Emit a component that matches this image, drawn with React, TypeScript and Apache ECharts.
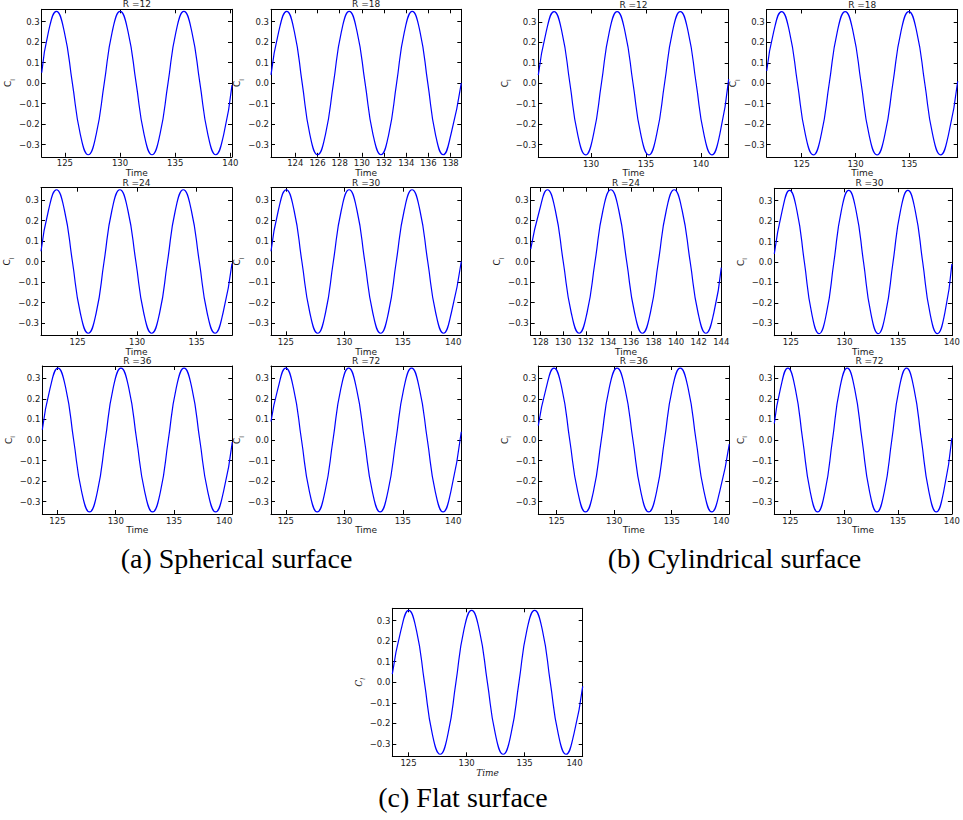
import React, { useEffect, useRef } from 'react';
import * as echarts from 'echarts';

// ---------- tick labels ----------
const yTicks = [-0.3, -0.2, -0.1, 0.0, 0.1, 0.2, 0.3];
const ticks125to140 = [125, 130, 135, 140];
const ticks125to135 = [125, 130, 135];
const ticks130to140 = [130, 135, 140];
const ticks124to138 = [124, 126, 128, 130, 132, 134, 136, 138];
const ticks128to144 = [128, 130, 132, 134, 136, 138, 140, 142, 144];

const panelTitles = ['R =12', 'R =18', 'R =24', 'R =30', 'R =36', 'R =72'];
const captions = ['(a) Spherical surface', '(b) Cylindrical surface', '(c) Flat surface'];

// ---------- x ranges (Time) ----------
const rangeSphR12 = [122.9, 140.15];
const rangeSphR18 = [121.81, 138.96];
const rangeSphR24 = [121.92, 137.97];
const rangeSphR30 = [123.73, 140];
const rangeSphR36 = [123.7, 140];
const rangeSphR72 = [123.73, 140];
const rangeCylR12 = [125.21, 142.52];
const rangeCylR18 = [121.75, 139.49];
const rangeCylR24 = [127.12, 144];
const rangeCylR30 = [123.46, 140];
const rangeCylR36 = [123.41, 140];
const rangeCylR72 = [123.51, 140];
const rangeFlat = [123.6, 140];

// ---------- series values [Time, C_l] ----------
const sphericalR12 = [[122.9,0.05],[123.51,0.25],[124.23,0.35],[124.95,0.25],[125.68,0],[126.4,-0.25],[127.12,-0.35],[127.84,-0.25],[128.57,0],[129.29,0.25],[130.01,0.35],[130.73,0.25],[131.46,0],[132.18,-0.25],[132.9,-0.35],[133.62,-0.25],[134.35,0],[135.07,0.25],[135.79,0.35],[136.51,0.25],[137.24,0],[137.96,-0.25],[138.68,-0.35],[139.4,-0.25],[140.15,-0.01]];
const sphericalR18 = [[121.81,0.04],[122.5,0.25],[123.22,0.35],[123.92,0.25],[124.62,0],[125.31,-0.25],[126.01,-0.35],[126.72,-0.25],[127.44,0],[128.15,0.25],[128.86,0.35],[129.57,0.25],[130.29,0],[131.0,-0.25],[131.72,-0.35],[132.42,-0.25],[133.13,0],[133.83,0.25],[134.54,0.35],[135.24,0.25],[135.94,0],[136.63,-0.25],[137.33,-0.35],[138.03,-0.25],[138.96,0.0]];
const sphericalR24 = [[121.92,0.05],[122.55,0.25],[123.22,0.35],[123.89,0.25],[124.56,0],[125.22,-0.25],[125.89,-0.35],[126.56,-0.25],[127.22,0],[127.88,0.25],[128.55,0.35],[129.22,0.25],[129.89,0],[130.55,-0.25],[131.22,-0.35],[131.89,-0.25],[132.55,0],[133.21,0.25],[133.88,0.35],[134.55,0.25],[135.22,0],[135.88,-0.25],[136.55,-0.35],[137.22,-0.25],[137.97,-0.01]];
const sphericalR30 = [[123.73,0.05],[124.36,0.25],[125.03,0.35],[125.7,0.25],[126.37,0],[127.05,-0.25],[127.72,-0.35],[128.39,-0.25],[129.06,0],[129.74,0.25],[130.41,0.35],[131.08,0.25],[131.75,0],[132.43,-0.25],[133.1,-0.35],[133.77,-0.25],[134.44,0],[135.12,0.25],[135.79,0.35],[136.46,0.25],[137.13,0],[137.81,-0.25],[138.48,-0.35],[139.15,-0.25],[140.0,0.0]];
const sphericalR36 = [[123.7,0.05],[124.36,0.25],[125.04,0.35],[125.72,0.25],[126.39,0],[127.07,-0.25],[127.75,-0.35],[128.43,-0.25],[129.1,0],[129.77,0.25],[130.45,0.35],[131.13,0.25],[131.8,0],[132.48,-0.25],[133.16,-0.35],[133.84,-0.25],[134.51,0],[135.18,0.25],[135.86,0.35],[136.54,0.25],[137.21,0],[137.89,-0.25],[138.57,-0.35],[139.25,-0.25],[140.0,-0.01]];
const sphericalR72 = [[123.73,0.09],[124.32,0.25],[124.99,0.35],[125.66,0.25],[126.34,0],[127.01,-0.25],[127.68,-0.35],[128.35,-0.25],[129.03,0],[129.7,0.25],[130.37,0.35],[131.04,0.25],[131.72,0],[132.39,-0.25],[133.06,-0.35],[133.73,-0.25],[134.41,0],[135.08,0.25],[135.75,0.35],[136.42,0.25],[137.1,0],[137.77,-0.25],[138.44,-0.35],[139.11,-0.25],[140.0,0.04]];
const cylindricalR12 = [[125.21,0.04],[125.92,0.25],[126.64,0.35],[127.36,0.25],[128.08,0],[128.79,-0.25],[129.51,-0.35],[130.23,-0.25],[130.95,0],[131.66,0.25],[132.38,0.35],[133.1,0.25],[133.82,0],[134.53,-0.25],[135.25,-0.35],[135.97,-0.25],[136.69,0],[137.4,0.25],[138.12,0.35],[138.84,0.25],[139.56,0],[140.27,-0.25],[140.99,-0.35],[141.71,-0.25],[142.52,0.02]];
const cylindricalR18 = [[121.75,0.06],[122.39,0.25],[123.13,0.35],[123.87,0.25],[124.61,0],[125.34,-0.25],[126.08,-0.35],[126.82,-0.25],[127.56,0],[128.3,0.25],[129.04,0.35],[129.78,0.25],[130.52,0],[131.25,-0.25],[131.99,-0.35],[132.73,-0.25],[133.47,0],[134.21,0.25],[134.95,0.35],[135.69,0.25],[136.43,0],[137.16,-0.25],[137.9,-0.35],[138.64,-0.25],[139.49,0.01]];
const cylindricalR24 = [[127.12,0.06],[127.9,0.25],[128.6,0.35],[129.3,0.25],[130.0,0],[130.71,-0.25],[131.41,-0.35],[132.11,-0.25],[132.82,0],[133.52,0.25],[134.22,0.35],[134.92,0.25],[135.62,0],[136.32,-0.25],[137.02,-0.35],[137.72,-0.25],[138.43,0],[139.13,0.25],[139.83,0.35],[140.53,0.25],[141.24,0],[141.94,-0.25],[142.64,-0.35],[143.34,-0.25],[144.0,-0.03]];
const cylindricalR30 = [[123.46,0.04],[124.19,0.25],[124.88,0.35],[125.57,0.25],[126.26,0],[126.94,-0.25],[127.63,-0.35],[128.32,-0.25],[129.01,0],[129.7,0.25],[130.39,0.35],[131.08,0.25],[131.77,0],[132.45,-0.25],[133.14,-0.35],[133.83,-0.25],[134.52,0],[135.21,0.25],[135.9,0.35],[136.59,0.25],[137.28,0],[137.96,-0.25],[138.65,-0.35],[139.34,-0.25],[140.0,-0.01]];
const cylindricalR36 = [[123.41,0.07],[124.08,0.25],[124.77,0.35],[125.46,0.25],[126.14,0],[126.83,-0.25],[127.51,-0.35],[128.2,-0.25],[128.88,0],[129.56,0.25],[130.25,0.35],[130.94,0.25],[131.63,0],[132.31,-0.25],[133.0,-0.35],[133.69,-0.25],[134.37,0],[135.05,0.25],[135.74,0.35],[136.43,0.25],[137.11,0],[137.8,-0.25],[138.48,-0.35],[139.17,-0.25],[140.0,-0.02]];
const cylindricalR72 = [[123.51,0.08],[124.08,0.25],[124.77,0.35],[125.46,0.25],[126.15,0],[126.84,-0.25],[127.53,-0.35],[128.22,-0.25],[128.91,0],[129.59,0.25],[130.28,0.35],[130.97,0.25],[131.66,0],[132.35,-0.25],[133.04,-0.35],[133.73,-0.25],[134.42,0],[135.1,0.25],[135.79,0.35],[136.48,0.25],[137.17,0],[137.86,-0.25],[138.55,-0.35],[139.24,-0.25],[140.0,0.01]];
const flatSurface = [[123.6,0.04],[124.33,0.25],[125.01,0.35],[125.69,0.25],[126.37,0],[127.04,-0.25],[127.72,-0.35],[128.4,-0.25],[129.08,0],[129.75,0.25],[130.43,0.35],[131.11,0.25],[131.79,0],[132.47,-0.25],[133.15,-0.35],[133.83,-0.25],[134.51,0],[135.18,0.25],[135.86,0.35],[136.54,0.25],[137.21,0],[137.89,-0.25],[138.57,-0.35],[139.25,-0.25],[140.0,-0.02]];

// ---------- layout (positions only) ----------
type Panel = {
  title: string | null; data: number[][]; range: number[]; ticks: number[];
  box: number[]; alignMax: boolean; math: boolean;
};
const panels: Panel[] = [
  { title: panelTitles[0], data: sphericalR12, range: rangeSphR12, ticks: ticks125to140, box: [41.7, 9.3, 190.3, 147.5], alignMax: false, math: false },
  { title: panelTitles[1], data: sphericalR18, range: rangeSphR18, ticks: ticks124to138, box: [271, 9.3, 190.3, 147.5], alignMax: false, math: false },
  { title: panelTitles[0], data: cylindricalR12, range: rangeCylR12, ticks: ticks130to140, box: [538.3, 9.5, 190.4, 147.5], alignMax: false, math: false },
  { title: panelTitles[1], data: cylindricalR18, range: rangeCylR18, ticks: ticks125to135, box: [766.7, 9.5, 191, 147.5], alignMax: false, math: false },
  { title: panelTitles[2], data: sphericalR24, range: rangeSphR24, ticks: ticks125to135, box: [41, 187.7, 191, 147.6], alignMax: false, math: false },
  { title: panelTitles[3], data: sphericalR30, range: rangeSphR30, ticks: ticks125to140, box: [271, 187.7, 190.3, 147.6], alignMax: true, math: false },
  { title: panelTitles[2], data: cylindricalR24, range: rangeCylR24, ticks: ticks128to144, box: [530.7, 187.7, 190.6, 147.6], alignMax: false, math: false },
  { title: panelTitles[3], data: cylindricalR30, range: rangeCylR30, ticks: ticks125to140, box: [774.3, 188.3, 190.3, 147.4], alignMax: false, math: false },
  { title: panelTitles[4], data: sphericalR36, range: rangeSphR36, ticks: ticks125to140, box: [42.3, 366, 190, 148], alignMax: true, math: false },
  { title: panelTitles[5], data: sphericalR72, range: rangeSphR72, ticks: ticks125to140, box: [271, 366, 190.3, 148], alignMax: true, math: false },
  { title: panelTitles[4], data: cylindricalR36, range: rangeCylR36, ticks: ticks125to140, box: [538.3, 366, 191, 148], alignMax: true, math: false },
  { title: panelTitles[5], data: cylindricalR72, range: rangeCylR72, ticks: ticks125to140, box: [774.3, 366, 190.3, 148], alignMax: false, math: false },
  { title: null, data: flatSurface, range: rangeFlat, ticks: ticks125to140, box: [392.3, 608.3, 190.4, 148], alignMax: true, math: true },
];
const captionPos = [[236.5, 558], [734.5, 558], [463, 797]];

const SANS = 'DejaVu Sans';
const SERIF = 'DejaVu Serif';
const AX = '#000';
const TXT = '#1a1a1a';

function fmtY(v: number) {
  const s = Math.abs(v).toFixed(1);
  return v < -1e-9 ? '\u2212' + s : s;
}

function buildOption() {
  const grid: any[] = [];
  const xAxis: any[] = [];
  const yAxis: any[] = [];
  const series: any[] = [];
  const graphic: any[] = [];

  panels.forEach((p, i) => {
    const [l, t, w, h] = p.box;
    grid.push({ left: l, top: t, width: w, height: h, containLabel: false });
    const lineStyle = { color: AX, width: 1 };
    xAxis.push({
      type: 'value', gridIndex: i, position: 'bottom', min: p.range[0], max: p.range[1],
      axisLine: { show: true, onZero: false, lineStyle },
      axisTick: { show: true, inside: true, length: 4, customValues: p.ticks, lineStyle },
      axisLabel: {
        show: true, customValues: p.ticks, margin: 2, fontSize: 8.5, color: TXT, fontFamily: SANS,
        formatter: (v: number) => String(Math.round(v)),
        alignMaxLabel: p.alignMax ? 'right' : null,
      },
      splitLine: { show: false },
      name: 'Time', nameLocation: 'middle', nameGap: 8,
      nameTextStyle: p.math
        ? { fontFamily: SERIF, fontStyle: 'italic', fontSize: 9, color: TXT, verticalAlign: 'top' }
        : { fontFamily: SANS, fontSize: 9, color: TXT, verticalAlign: 'top' },
    });
    xAxis.push({
      type: 'value', gridIndex: i, position: 'top', min: p.range[0], max: p.range[1],
      axisLine: { show: true, onZero: false, lineStyle },
      axisTick: { show: true, inside: true, length: 4, customValues: p.ticks, lineStyle },
      axisLabel: { show: false }, splitLine: { show: false },
    });
    yAxis.push({
      type: 'value', gridIndex: i, position: 'left', min: -0.36, max: 0.36,
      axisLine: { show: true, onZero: false, lineStyle },
      axisTick: { show: true, inside: true, length: 4, customValues: yTicks, lineStyle },
      axisLabel: { show: true, customValues: yTicks, margin: 2, fontSize: 8.5, color: TXT, fontFamily: SANS, formatter: fmtY },
      splitLine: { show: false },
      name: '{c|C}{s|l}', nameLocation: 'middle', nameGap: 19, nameRotate: 90,
      nameTextStyle: {
        rich: p.math
          ? {
              c: { fontFamily: SERIF, fontStyle: 'italic', fontSize: 9, color: TXT, lineHeight: 14, verticalAlign: 'middle' },
              s: { fontFamily: SERIF, fontStyle: 'italic', fontSize: 6, color: TXT, lineHeight: 14, verticalAlign: 'bottom' },
            }
          : {
              c: { fontFamily: SANS, fontSize: 9, color: TXT, lineHeight: 14, verticalAlign: 'middle' },
              s: { fontFamily: SANS, fontSize: 6, color: TXT, lineHeight: 14, verticalAlign: 'bottom' },
            },
      },
    });
    yAxis.push({
      type: 'value', gridIndex: i, position: 'right', min: -0.36, max: 0.36,
      axisLine: { show: true, onZero: false, lineStyle },
      axisTick: { show: true, inside: true, length: 4, customValues: yTicks, lineStyle },
      axisLabel: { show: false }, splitLine: { show: false },
    });
    series.push({
      type: 'line', xAxisIndex: 2 * i, yAxisIndex: 2 * i, data: p.data,
      showSymbol: false, symbol: 'none', smooth: 0.5,
      lineStyle: { color: '#0000ff', width: 1.2 }, clip: true,
    });
    if (p.title) {
      graphic.push({
        type: 'text', x: l + w / 2, y: t - 0.5,
        style: {
          text: p.title, fill: TXT, font: `9px "${SANS}"`,
          align: 'center', verticalAlign: 'bottom', textAlign: 'center', textVerticalAlign: 'bottom',
        },
      });
    }
  });

  captions.forEach((c, i) => {
    graphic.push({
      type: 'text', x: captionPos[i][0], y: captionPos[i][1],
      style: {
        text: c, fill: '#000', font: '28px "Liberation Serif"',
        align: 'center', verticalAlign: 'middle', textAlign: 'center', textVerticalAlign: 'middle',
      },
    });
  });

  return {
    animation: false,
    backgroundColor: '#ffffff',
    grid, xAxis, yAxis, series, graphic,
  };
}

export default function App() {
  const ref = useRef<HTMLDivElement>(null);
  useEffect(() => {
    if (!ref.current) return;
    const chart = echarts.init(ref.current, undefined, { renderer: 'svg' });
    chart.setOption(buildOption() as any);
    return () => chart.dispose();
  }, []);
  return (
    <div
      ref={ref}
      style={{ position: 'absolute', left: 0, top: 0, width: 963, height: 820, background: '#fff' }}
    />
  );
}
